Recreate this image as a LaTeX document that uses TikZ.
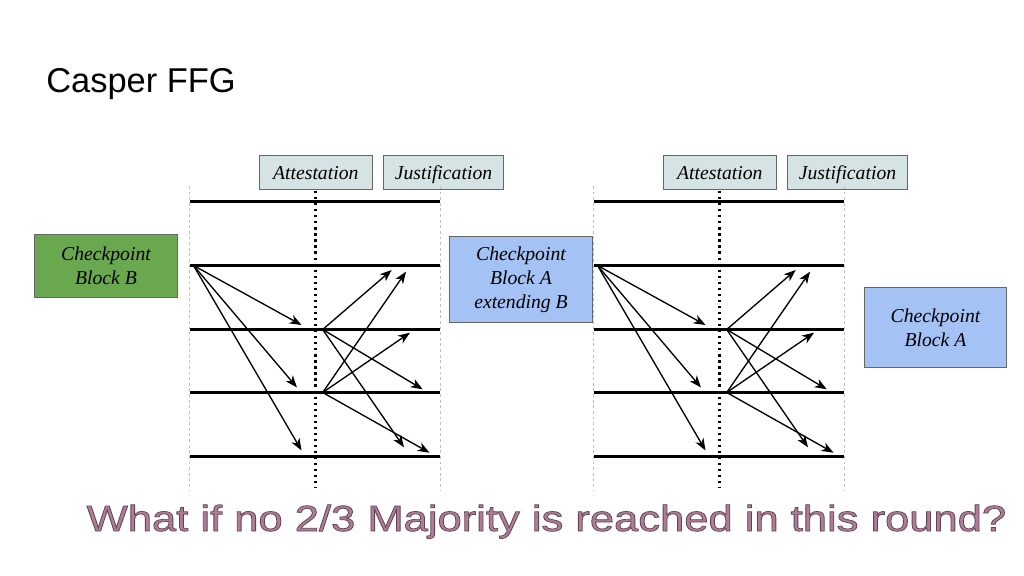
\documentclass[tikz,border=0pt]{standalone}
\usepackage{fontspec}
\setmainfont{Liberation Serif}
\setsansfont{Liberation Sans}
\usetikzlibrary{arrows.meta,positioning}
\definecolor{ckgreen}{RGB}{106,168,79}
\definecolor{ckblue}{RGB}{164,194,244}
\definecolor{tagfill}{RGB}{214,227,229}
\definecolor{mauve}{RGB}{176,124,150}

\begin{document}
\begin{tikzpicture}[
    x=0.025cm, y=-0.025cm,
    node distance=0.26cm,
    tag/.style={draw=gray!80!black, fill=tagfill, minimum height=0.86cm, inner sep=0pt,
                text height=12.5pt, text depth=2.5pt,
                font=\fontsize{14}{17}\selectfont\itshape},
    ckbox/.style={draw=gray!80!black, minimum width=3.585cm, inner sep=0pt, align=center,
                  font=\fontsize{14}{17}\selectfont\itshape},
    row/.style={line width=2.1pt},
    edge/.style={gray!50, line width=0.4pt, dash pattern=on 2pt off 2pt},
    mid/.style={line width=1.8pt, dash pattern=on 1.6pt off 2.7pt},
    msg/.style={-{Stealth[length=8.5pt,width=6.5pt,inset=2.5pt]}, line width=0.95pt}
]
    \useasboundingbox (0,0) rectangle (1024,576);

    \node[anchor=base west, inner sep=0pt, font=\sffamily\fontsize{24.5}{29}\selectfont] (title) at (46,92.3) {Casper FFG};

    % two rounds, same layout
    \foreach \p/\dx in {l/0, r/404} {
      \begin{scope}[shift={(\dx,0)}]
        \node[tag, minimum width=2.825cm] (\p-att) at (315.8,172.2) {Attestation};
        \node[tag, minimum width=3.01cm, right=of \p-att] (\p-jus) {Justification};

        \draw[edge] (189.5,186) -- (189.5,490);
        \draw[edge] (440.3,186) -- (440.3,490);
        \draw[mid] (315.3,191) -- (315.3,488);
        \foreach \y in {201.5,265.5,329.5,392.5,456.5}
          \draw[row] (189.5,\y) -- (440.3,\y);

        \coordinate (\p-s)  at (193.5,265.5);
        \coordinate (\p-m1) at (322.7,329.5);
        \coordinate (\p-m2) at (322.7,392.5);
        \coordinate (\p-a1) at (301.5,325);
        \coordinate (\p-a2) at (297,387.5);
        \coordinate (\p-a3) at (301.5,450.5);
        \coordinate (\p-b1) at (391.7,270);
        \coordinate (\p-b2) at (422.7,389.3);
        \coordinate (\p-b3) at (404,447.3);
        \coordinate (\p-c1) at (406,271.7);
        \coordinate (\p-c2) at (410,332.7);
        \coordinate (\p-c3) at (429.5,452.7);

        \foreach \t in {a1,a2,a3}
          \draw[msg] (\p-s) -- (\p-\t);
        \foreach \t in {b1,b2,b3}
          \draw[msg] (\p-m1) -- (\p-\t);
        \foreach \t in {c1,c2,c3}
          \draw[msg] (\p-m2) -- (\p-\t);
      \end{scope}
    }

    \node[ckbox, fill=ckgreen, minimum height=1.585cm] (ckB) at (106,266) {Checkpoint\\Block B};
    \node[ckbox, fill=ckblue, minimum height=2.14cm] (ckAB) at (521,279.5) {Checkpoint\\Block A\\extending B};
    \node[ckbox, fill=ckblue, minimum width=3.56cm, minimum height=2.01cm] (ckA) at (935.5,327.5) {Checkpoint\\Block A};

    \node[anchor=base, inner sep=0pt, text=mauve, font=\sffamily\fontsize{25.8}{30}\selectfont] (question) at (546.5,531)
      {\scalebox{1.2}[1]{\special{pdf:code 2 Tr 0.5 w 0.37 0.27 0.33 RG}What if no 2/3 Majority is reached in this round?\special{pdf:code 0 Tr}}};
\end{tikzpicture}
\end{document}
